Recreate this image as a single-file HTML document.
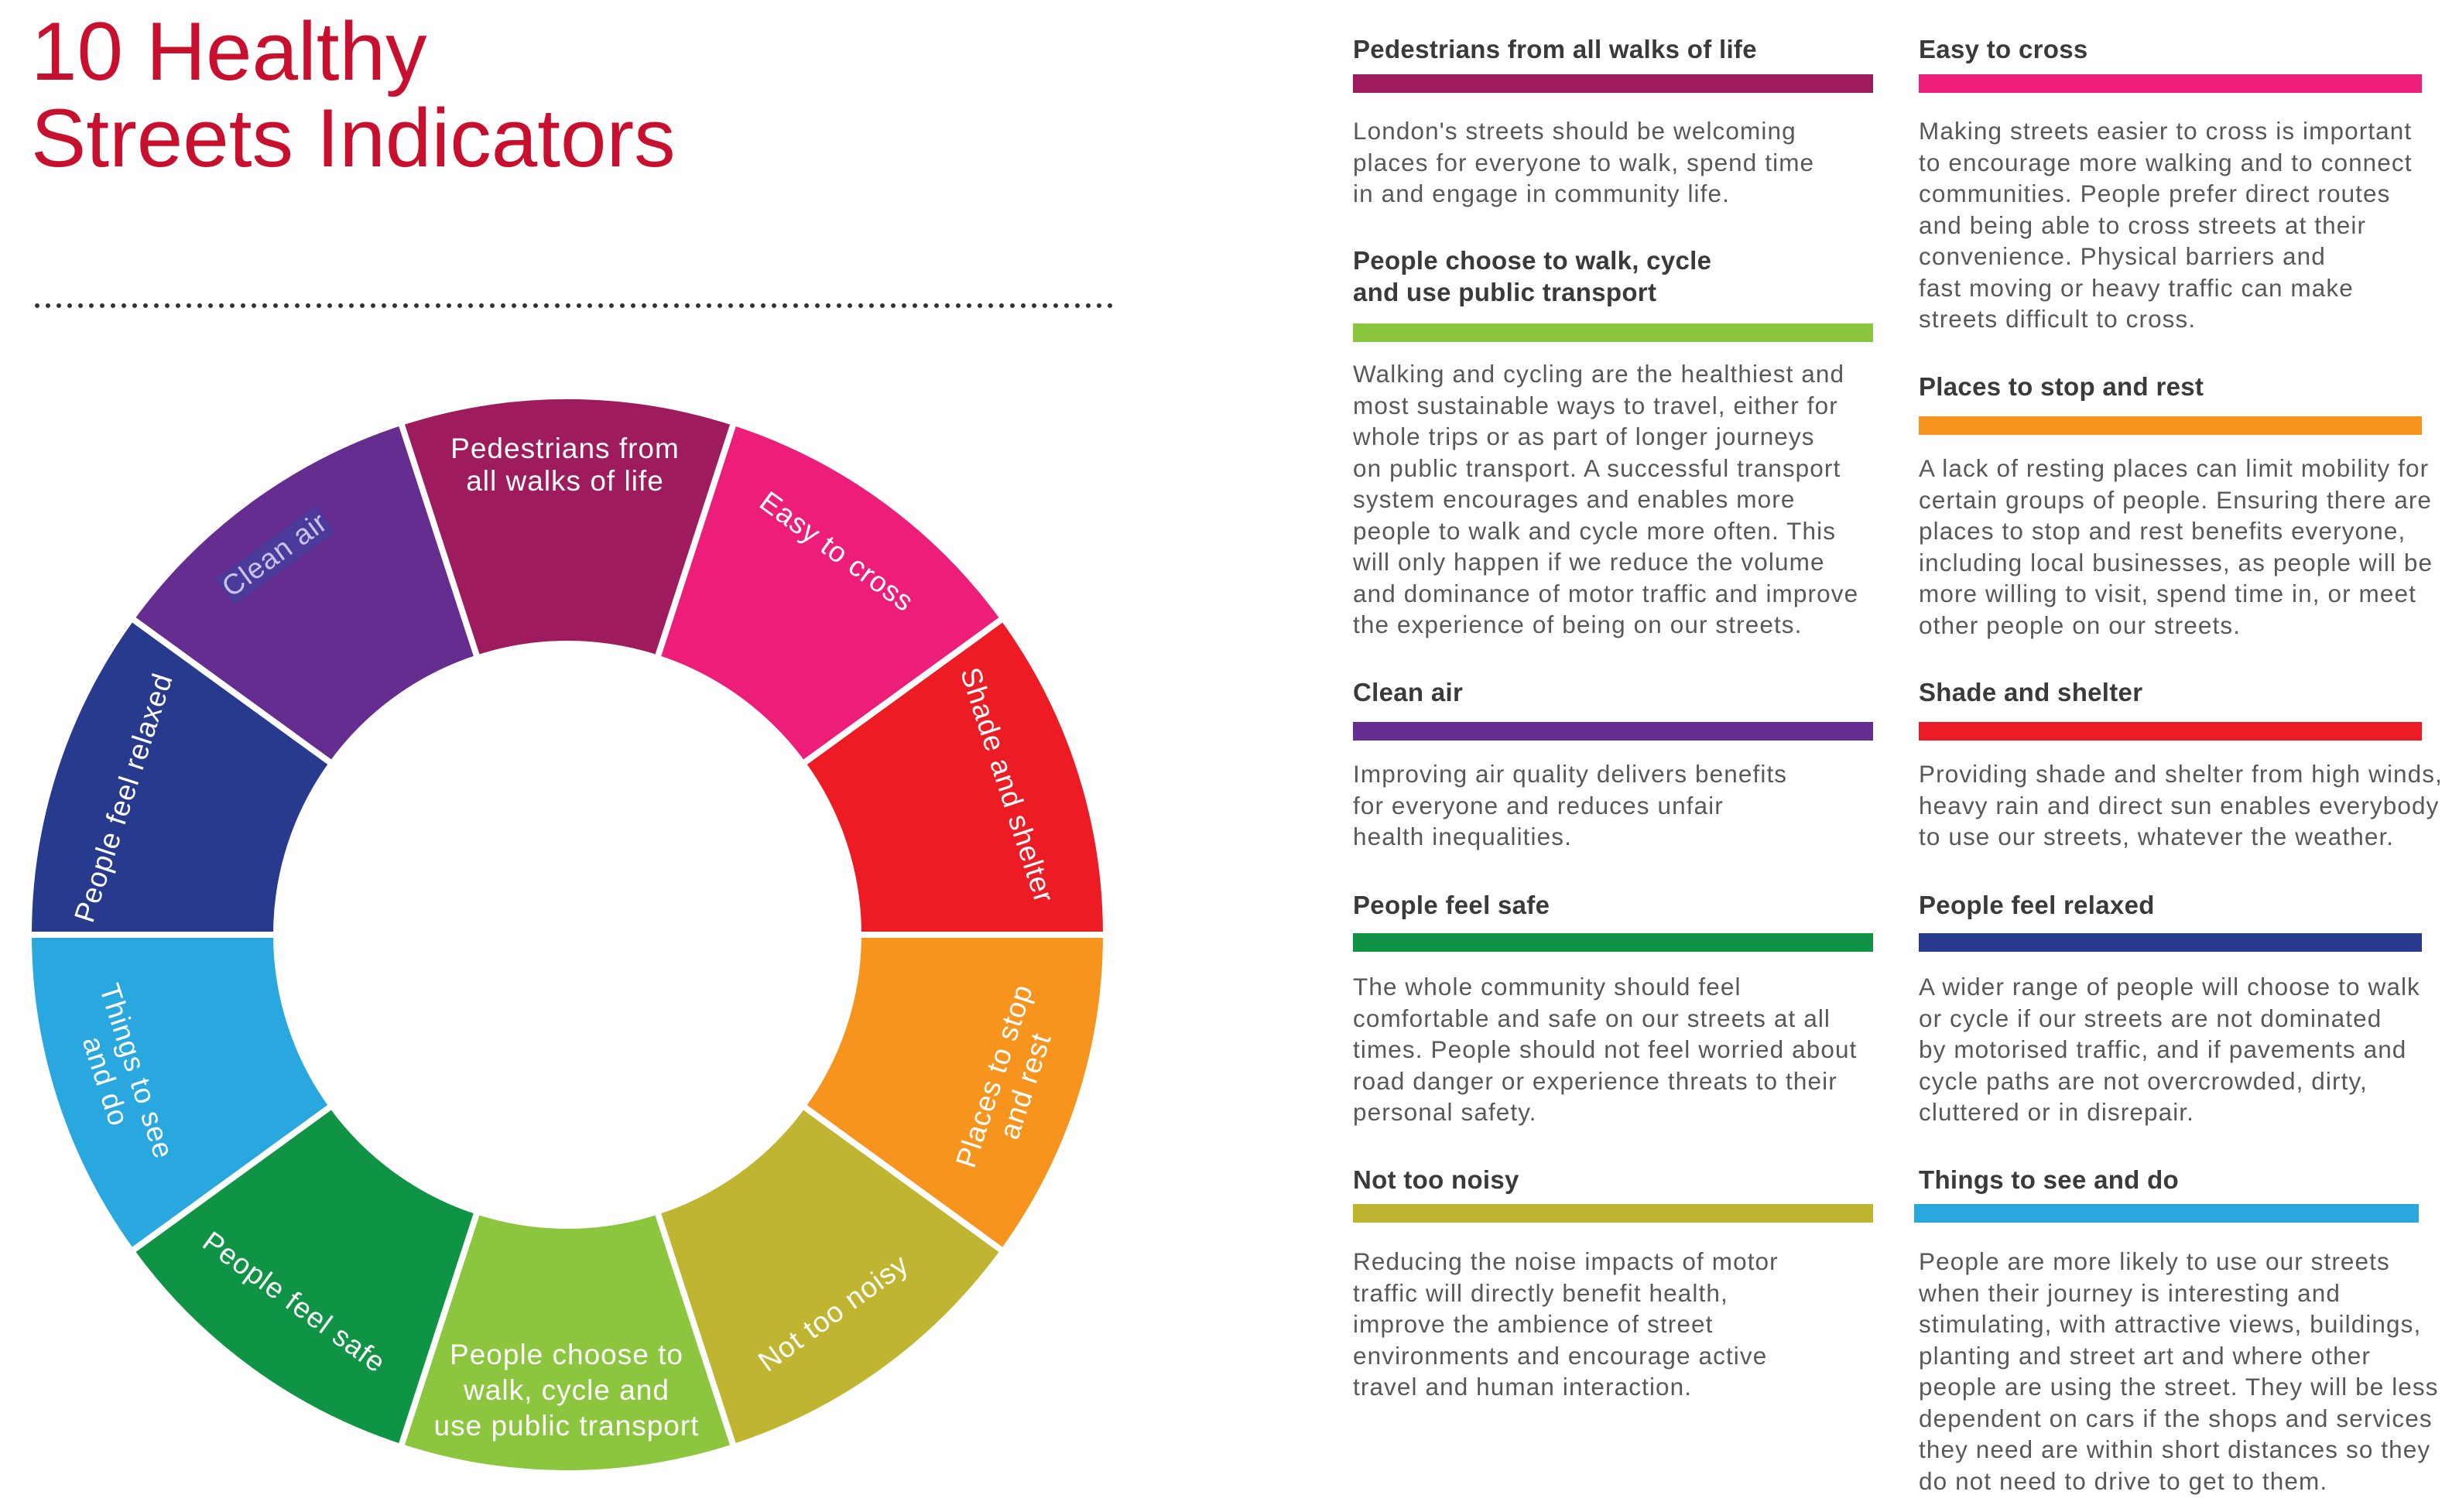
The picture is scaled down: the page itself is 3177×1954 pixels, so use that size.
<!DOCTYPE html>
<html><head><meta charset="utf-8"><style>
html,body{margin:0;padding:0;background:#fff;}
#c{position:relative;width:3177px;height:1954px;overflow:hidden;font-family:"Liberation Sans",sans-serif;}
.t{position:absolute;white-space:nowrap;}
.h{font-size:33px;font-weight:bold;color:#3a3a3a;line-height:41px;letter-spacing:0.3px;}
.b{font-size:31.5px;color:#585858;line-height:40.5px;letter-spacing:1.1px;}
.bar{position:absolute;height:24px;}
.title{position:absolute;left:40px;color:#c8102e;font-size:107px;line-height:112px;white-space:nowrap;}
</style></head><body><div id="c">
<div class="title" style="top:10px">10 Healthy</div>
<div class="title" style="top:122px">Streets Indicators</div>
<svg style="position:absolute;left:0;top:0" width="3177" height="1954">
<line x1="48" y1="395" x2="1436" y2="395" stroke="#333" stroke-width="6" stroke-dasharray="0 14" stroke-linecap="round"/>
<g transform="translate(-3,-4)">
<g stroke="#fff" stroke-width="8">
<path fill="#ed1c24" d="M1432,1212 A696,696 0 0 0 1299.1,802.9 L1040.2,991 A376,376 0 0 1 1112,1212 Z"/>
<path fill="#ec1e79" d="M1299.1,802.9 A696,696 0 0 0 951.1,550 L852.2,854.4 A376,376 0 0 1 1040.2,991 Z"/>
<path fill="#9e1b5e" d="M951.1,550 A696,696 0 0 0 520.9,550 L619.8,854.4 A376,376 0 0 1 852.2,854.4 Z"/>
<path fill="#662d91" d="M520.9,550 A696,696 0 0 0 172.9,802.9 L431.8,991 A376,376 0 0 1 619.8,854.4 Z"/>
<path fill="#283a8e" d="M172.9,802.9 A696,696 0 0 0 40,1212 L360,1212 A376,376 0 0 1 431.8,991 Z"/>
<path fill="#29a8e0" d="M40,1212 A696,696 0 0 0 172.9,1621.1 L431.8,1433 A376,376 0 0 1 360,1212 Z"/>
<path fill="#0e9444" d="M172.9,1621.1 A696,696 0 0 0 520.9,1874 L619.8,1569.6 A376,376 0 0 1 431.8,1433 Z"/>
<path fill="#8cc63f" d="M520.9,1874 A696,696 0 0 0 951.1,1874 L852.2,1569.6 A376,376 0 0 1 619.8,1569.6 Z"/>
<path fill="#bfb530" d="M951.1,1874 A696,696 0 0 0 1299.1,1621.1 L1040.2,1433 A376,376 0 0 1 852.2,1569.6 Z"/>
<path fill="#f7941d" d="M1299.1,1621.1 A696,696 0 0 0 1432,1212 L1112,1212 A376,376 0 0 1 1040.2,1433 Z"/>
</g>
<g fill="#fff" font-family="Liberation Sans, sans-serif" font-size="37" letter-spacing="1" text-anchor="middle">
<text x="733" y="596">Pedestrians from</text>
<text x="733" y="638">all walks of life</text>
<text transform="translate(1084,717) rotate(36)" y="12">Easy to cross</text>
<text transform="translate(1304,1019) rotate(72)" y="12">Shade and shelter</text>
<g transform="translate(1308,1401) rotate(-72)"><text y="-9">Places to stop</text><text y="33">and rest</text></g>
<text transform="translate(1080,1701) rotate(-36)" y="12">Not too noisy</text>
<text x="735" y="1767">People choose to</text>
<text x="735" y="1813">walk, cycle and</text>
<text x="735" y="1859">use public transport</text>
<text transform="translate(383,1687) rotate(36)" y="12">People feel safe</text>
<g transform="translate(159,1395) rotate(72)"><text y="-9">Things to see</text><text y="33">and do</text></g>
<text transform="translate(163,1035) rotate(-72)" y="12">People feel relaxed</text>
<g transform="translate(358,721) rotate(-36)"><rect x="-80" y="-20" width="160" height="42" fill="#4b3a9a"/><text y="12" fill="#c9c3ec">Clean air</text></g>
</g>
</g>
</svg>

<div class="t h" style="left:1748px;top:43px">Pedestrians from all walks of life</div>
<div class="bar" style="left:1748px;top:96px;width:672px;background:#9e1b5e"></div>
<div class="t b" style="left:1748px;top:149px">London's streets should be welcoming<br>places for everyone to walk, spend time<br>in and engage in community life.</div>

<div class="t h" style="left:1748px;top:316px">People choose to walk, cycle<br>and use public transport</div>
<div class="bar" style="left:1748px;top:418px;width:672px;background:#8cc63f"></div>
<div class="t b" style="left:1748px;top:463px">Walking and cycling are the healthiest and<br>most sustainable ways to travel, either for<br>whole trips or as part of longer journeys<br>on public transport. A successful transport<br>system encourages and enables more<br>people to walk and cycle more often. This<br>will only happen if we reduce the volume<br>and dominance of motor traffic and improve<br>the experience of being on our streets.</div>

<div class="t h" style="left:1748px;top:874px">Clean air</div>
<div class="bar" style="left:1748px;top:933px;width:672px;background:#662d91"></div>
<div class="t b" style="left:1748px;top:980px">Improving air quality delivers benefits<br>for everyone and reduces unfair<br>health inequalities.</div>

<div class="t h" style="left:1748px;top:1149px">People feel safe</div>
<div class="bar" style="left:1748px;top:1206px;width:672px;background:#0e9444"></div>
<div class="t b" style="left:1748px;top:1255px">The whole community should feel<br>comfortable and safe on our streets at all<br>times. People should not feel worried about<br>road danger or experience threats to their<br>personal safety.</div>

<div class="t h" style="left:1748px;top:1504px">Not too noisy</div>
<div class="bar" style="left:1748px;top:1556px;width:672px;background:#bfb530"></div>
<div class="t b" style="left:1748px;top:1610px">Reducing the noise impacts of motor<br>traffic will directly benefit health,<br>improve the ambience of street<br>environments and encourage active<br>travel and human interaction.</div>

<div class="t h" style="left:2479px;top:43px">Easy to cross</div>
<div class="bar" style="left:2479px;top:96px;width:650px;background:#ec1e79"></div>
<div class="t b" style="left:2479px;top:149px">Making streets easier to cross is important<br>to encourage more walking and to connect<br>communities. People prefer direct routes<br>and being able to cross streets at their<br>convenience. Physical barriers and<br>fast moving or heavy traffic can make<br>streets difficult to cross.</div>

<div class="t h" style="left:2479px;top:479px">Places to stop and rest</div>
<div class="bar" style="left:2479px;top:538px;width:650px;background:#f7941d"></div>
<div class="t b" style="left:2479px;top:585px">A lack of resting places can limit mobility for<br>certain groups of people. Ensuring there are<br>places to stop and rest benefits everyone,<br>including local businesses, as people will be<br>more willing to visit, spend time in, or meet<br>other people on our streets.</div>

<div class="t h" style="left:2479px;top:874px">Shade and shelter</div>
<div class="bar" style="left:2479px;top:933px;width:650px;background:#ed1c24"></div>
<div class="t b" style="left:2479px;top:980px">Providing shade and shelter from high winds,<br>heavy rain and direct sun enables everybody<br>to use our streets, whatever the weather.</div>

<div class="t h" style="left:2479px;top:1149px">People feel relaxed</div>
<div class="bar" style="left:2479px;top:1206px;width:650px;background:#283a8e"></div>
<div class="t b" style="left:2479px;top:1255px">A wider range of people will choose to walk<br>or cycle if our streets are not dominated<br>by motorised traffic, and if pavements and<br>cycle paths are not overcrowded, dirty,<br>cluttered or in disrepair.</div>

<div class="t h" style="left:2479px;top:1504px">Things to see and do</div>
<div class="bar" style="left:2473px;top:1556px;width:652px;background:#29a8e0"></div>
<div class="t b" style="left:2479px;top:1610px">People are more likely to use our streets<br>when their journey is interesting and<br>stimulating, with attractive views, buildings,<br>planting and street art and where other<br>people are using the street. They will be less<br>dependent on cars if the shops and services<br>they need are within short distances so they<br>do not need to drive to get to them.</div>
</div></body></html>
